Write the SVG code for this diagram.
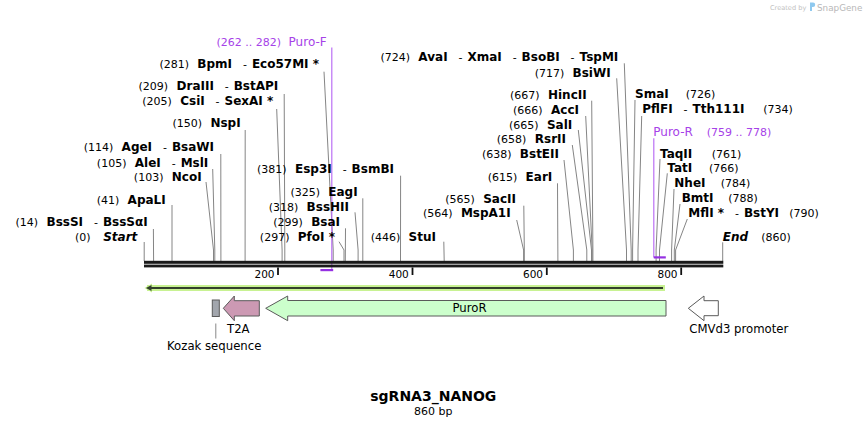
<svg xmlns="http://www.w3.org/2000/svg" width="867" height="427" viewBox="0 0 867 427">
<style>
text { font-family: "DejaVu Sans", Verdana, sans-serif; font-size: 11px; fill: #000; white-space: pre; }
.b { font-weight: bold; font-size: 12px; }
.bi { font-weight: bold; font-style: italic; font-size: 12px; }
.pu { fill: #a642e8; }
.pl { font-size: 12px; }
.cut { fill: none; stroke: #858585; stroke-width: 1; }
.prl { fill: none; stroke: #bb70f4; stroke-width: 1.2; }
.prb { fill: #9530e2; }
.tick { stroke: #111; stroke-width: 1.8; }
.tl { font-size: 10.5px; text-anchor: end; }
.fl { font-size: 11.7px; }
.feat { stroke: #5a5a5a; stroke-width: 1; }
.mid { text-anchor: middle; }
</style>
<rect width="867" height="427" fill="#fff"/>

<!-- watermark -->
<g id="watermark">
<text x="770" y="10" style="font-size:6.6px;fill:#c2c2c2">Created by</text>
<path d="M810,2.5 h3 a2.2,2.2 0 0 1 0,4.4 h-1 v4 h-2 z" fill="#8fc9ef"/>
<text x="817" y="10.5" style="font-size:8.8px;fill:#b8b8b8">SnapGene</text>
</g>

<!-- connectors -->
<g id="connectors">
<polyline class="cut" points="144.2,242 144.2,261"/>
<polyline class="cut" points="153.4,229 153.6,261"/>
<polyline class="cut" points="172,205 172,261"/>
<polyline class="cut" points="206,182 213.5,250 213.5,261"/>
<polyline class="cut" points="212.7,169 214.8,250 214.8,261"/>
<polyline class="cut" points="220.8,154 220.9,261"/>
<polyline class="cut" points="245.2,130 245.1,261"/>
<polyline class="cut" points="276.7,109 282.1,250 282.1,261"/>
<polyline class="cut" points="284.2,94 284.8,250 284.8,261"/>
<polyline class="cut" points="324,71.7 333.2,250 333.2,261"/>
<polyline class="cut" points="400.6,175.7 400.5,261"/>
<polyline class="cut" points="362.8,198.3 362.8,261"/>
<polyline class="cut" points="355,212.3 358.1,250 358.1,261"/>
<polyline class="cut" points="345.5,228.3 345.3,261"/>
<polyline class="cut" points="339,241.7 344,250 344,261"/>
<polyline class="cut" points="443.8,241.7 444.2,261"/>
<polyline class="cut" points="516.7,220 523.6,250 523.6,261"/>
<polyline class="cut" points="523.8,205.7 524.3,250 524.3,261"/>
<polyline class="cut" points="557.5,183.3 557.9,261"/>
<polyline class="cut" points="564,160 573.4,250 573.4,261"/>
<polyline class="cut" points="572.3,145 586.8,250 586.8,261"/>
<polyline class="cut" points="578.3,130 591.5,250 591.5,261"/>
<polyline class="cut" points="585.7,116 592.2,250 592.2,261"/>
<polyline class="cut" points="591.7,100.7 592.9,250 592.9,261"/>
<polyline class="cut" points="616.7,78.3 626.5,250 626.5,261"/>
<polyline class="cut" points="624.3,63.3 631.2,250 631.2,261"/>
<polyline class="cut" points="635,100 632.6,250 632.6,261"/>
<polyline class="cut" points="641.7,116 638,250 638,261"/>
<polyline class="cut" points="660,159 656.1,250 656.1,261"/>
<polyline class="cut" points="667.3,173.3 659.5,250 659.5,261"/>
<polyline class="cut" points="674,189 671.6,250 671.6,261"/>
<polyline class="cut" points="680,204 674.3,250 674.3,261"/>
<polyline class="cut" points="687.3,219 675.6,250 675.6,261"/>
<polyline class="cut" points="722.7,242.3 722.7,261"/>
<path class="prl" d="M331.8,47.5 V270"/>
<path class="prl" d="M653.8,138.3 V257.5"/>
</g>

<!-- primers -->
<g id="primer-puro-f">
<rect class="prb" x="320.4" y="269" width="12.8" height="2.2"/>
<text x="326.7" y="46" text-anchor="end" class="pu">(262 .. 282)<tspan class="pl">  Puro-F</tspan></text>
</g>
<g id="primer-puro-r">
<rect class="prb" x="653.8" y="256.3" width="12" height="2.2"/>
<text x="653.3" y="136" class="pu pl">Puro-R</text>
<text x="706.7" y="136" class="pu">(759 .. 778)</text>
</g>

<!-- backbone -->
<g id="backbone">
<rect x="144" y="260.8" width="579.3" height="3" fill="#1a1a1a"/>
<rect x="144" y="264.6" width="579.3" height="2.8" fill="#1a1a1a"/>
<line class="tick" x1="278" y1="267.5" x2="278" y2="275"/>
<line class="tick" x1="412.5" y1="267.5" x2="412.5" y2="275"/>
<line class="tick" x1="546.8" y1="267.5" x2="546.8" y2="275"/>
<line class="tick" x1="681.2" y1="267.5" x2="681.2" y2="275"/>
<text class="tl" x="274.5" y="277.5">200</text>
<text class="tl" x="408.8" y="277.5">400</text>
<text class="tl" x="543" y="277.5">600</text>
<text class="tl" x="677.5" y="277.5">800</text>
</g>

<!-- enzyme labels, left-side -->
<g id="site-start"><text x="137.3" y="240.5" text-anchor="end">(0)<tspan class="bi">   Start</tspan></text></g>
<g id="site-bsssi"><text x="147.7" y="226" text-anchor="end">(14)<tspan class="b">  BssSI  </tspan><tspan dx="2.5">- </tspan><tspan class="b" dx="1.5">BssSαI</tspan></text></g>
<g id="site-apali"><text x="165.7" y="204" text-anchor="end">(41)<tspan class="b">  ApaLI</tspan></text></g>
<g id="site-ncoi"><text x="201.7" y="181" text-anchor="end">(103)<tspan class="b">  NcoI</tspan></text></g>
<g id="site-alei"><text x="208.3" y="166.5" text-anchor="end">(105)<tspan class="b">  AleI  </tspan><tspan dx="2.5">- </tspan><tspan class="b" dx="1.5">MslI</tspan></text></g>
<g id="site-agei"><text x="214" y="151" text-anchor="end">(114)<tspan class="b">  AgeI  </tspan><tspan dx="2.5">- </tspan><tspan class="b" dx="1.5">BsaWI</tspan></text></g>
<g id="site-nspi"><text x="240.7" y="127" text-anchor="end">(150)<tspan class="b">  NspI</tspan></text></g>
<g id="site-csii"><text x="273.3" y="105" text-anchor="end">(205)<tspan class="b">  CsiI  </tspan><tspan dx="2.5">- </tspan><tspan class="b" dx="1.5">SexAI *</tspan></text></g>
<g id="site-draiii"><text x="278.3" y="90" text-anchor="end">(209)<tspan class="b">  DraIII  </tspan><tspan dx="2.5">- </tspan><tspan class="b" dx="1.5">BstAPI</tspan></text></g>
<g id="site-bpmi"><text x="319" y="67.5" text-anchor="end">(281)<tspan class="b">  BpmI  </tspan><tspan dx="2.5">- </tspan><tspan class="b" dx="1.5">Eco57MI *</tspan></text></g>
<g id="site-esp3i"><text x="394" y="172.5" text-anchor="end">(381)<tspan class="b">  Esp3I  </tspan><tspan dx="2.5">- </tspan><tspan class="b" dx="1.5">BsmBI</tspan></text></g>
<g id="site-eagi"><text x="357.7" y="196" text-anchor="end">(325)<tspan class="b">  EagI</tspan></text></g>
<g id="site-bsshii"><text x="349" y="211" text-anchor="end">(318)<tspan class="b">  BssHII</tspan></text></g>
<g id="site-bsai"><text x="340" y="225.5" text-anchor="end">(299)<tspan class="b">  BsaI</tspan></text></g>
<g id="site-pfoi"><text x="335" y="240.5" text-anchor="end">(297)<tspan class="b">  PfoI *</tspan></text></g>
<g id="site-stui"><text x="436" y="240.5" text-anchor="end">(446)<tspan class="b">  StuI</tspan></text></g>
<g id="site-mspa1i"><text x="510.7" y="217" text-anchor="end">(564)<tspan class="b">  MspA1I</tspan></text></g>
<g id="site-sacii"><text x="516" y="203" text-anchor="end">(565)<tspan class="b">  SacII</tspan></text></g>
<g id="site-eari"><text x="552.3" y="181" text-anchor="end">(615)<tspan class="b">  EarI</tspan></text></g>
<g id="site-bsteii"><text x="559" y="158" text-anchor="end">(638)<tspan class="b">  BstEII</tspan></text></g>
<g id="site-rsrii"><text x="566" y="143" text-anchor="end">(658)<tspan class="b">  RsrII</tspan></text></g>
<g id="site-sali"><text x="572.3" y="128.5" text-anchor="end">(665)<tspan class="b">  SalI</tspan></text></g>
<g id="site-acci"><text x="579" y="114" text-anchor="end">(666)<tspan class="b">  AccI</tspan></text></g>
<g id="site-hincii"><text x="586.7" y="99" text-anchor="end">(667)<tspan class="b">  HincII</tspan></text></g>
<g id="site-bsiwi"><text x="610.7" y="76.5" text-anchor="end">(717)<tspan class="b">  BsiWI</tspan></text></g>
<g id="site-avai"><text x="618.3" y="61" text-anchor="end">(724)<tspan class="b">  AvaI  </tspan><tspan dx="2.5">- </tspan><tspan class="b" dx="1.5">XmaI  </tspan><tspan dx="2.5">- </tspan><tspan class="b" dx="1.5">BsoBI  </tspan><tspan dx="2.5">- </tspan><tspan class="b" dx="1.5">TspMI</tspan></text></g>

<!-- enzyme labels, right-side -->
<g id="site-smai"><text x="635" y="98" class="b">SmaI</text><text x="685.7" y="98">(726)</text></g>
<g id="site-pflfi"><text x="642.3" y="113"><tspan class="b">PflFI  </tspan><tspan dx="2.5">- </tspan><tspan class="b" dx="1.5">Tth111I</tspan></text><text x="763.3" y="113">(734)</text></g>
<g id="site-taqii"><text x="660" y="158" class="b">TaqII</text><text x="711.7" y="158">(761)</text></g>
<g id="site-tati"><text x="667.3" y="172.3" class="b">TatI</text><text x="709" y="172.3">(766)</text></g>
<g id="site-nhei"><text x="674.3" y="187.3" class="b">NheI</text><text x="720.7" y="187.3">(784)</text></g>
<g id="site-bmti"><text x="681.7" y="202.3" class="b">BmtI</text><text x="728.3" y="202.3">(788)</text></g>
<g id="site-mfli"><text x="688.3" y="217.3"><tspan class="b">MflI *  </tspan><tspan dx="2.5">- </tspan><tspan class="b" dx="1.5">BstYI</tspan></text><text x="789.3" y="217.3">(790)</text></g>
<g id="site-end"><text x="722.7" y="240.7" class="bi">End</text><text x="761.3" y="240.7">(860)</text></g>

<!-- features -->
<g id="orf-line">
<path d="M147,288 H665" stroke="#c8f292" stroke-width="6" fill="none"/>
<polygon points="144.5,288 152,283.5 152,292.5" fill="#c8f292"/>
<path d="M150,288 H663" stroke="#33402c" stroke-width="2" fill="none"/>
<polygon points="146,288 151.5,285 151.5,291" fill="#33402c"/>
</g>
<g id="kozak">
<rect class="feat" x="212.3" y="300" width="7" height="16.5" fill="#a2a6ad"/>
<line x1="215.8" y1="323.5" x2="215.8" y2="338.5" stroke="#888" stroke-width="1"/>
<text class="fl mid" x="214.2" y="350">Kozak sequence</text>
</g>
<g id="t2a">
<path class="feat" d="M259.3,300.7 H234.3 V296 L223.3,308.3 L234.3,320.7 V316 H259.3 Z" fill="#cc99b3"/>
<text class="fl mid" x="238.3" y="333.3">T2A</text>
</g>
<g id="puror">
<path class="feat" d="M666,300.5 H287.7 V296 L265.7,308.3 L287.7,320.7 V316 H666 Z" fill="#ccffcc"/>
<text class="fl mid" x="469.5" y="312">PuroR</text>
</g>
<g id="cmvd3">
<path class="feat" d="M718.3,300.7 H704 V296 L688.3,308.3 L704,320.7 V315.7 H718.3 Z" fill="#fff" stroke="#6a6a6a"/>
<text class="fl" x="689.3" y="333.3">CMVd3 promoter</text>
</g>

<!-- title -->
<g id="title">
<text class="mid" x="433.3" y="400.7" style="font-weight:bold;font-size:14px">sgRNA3_NANOG</text>
<text class="mid" x="433.3" y="415">860 bp</text>
</g>
</svg>
